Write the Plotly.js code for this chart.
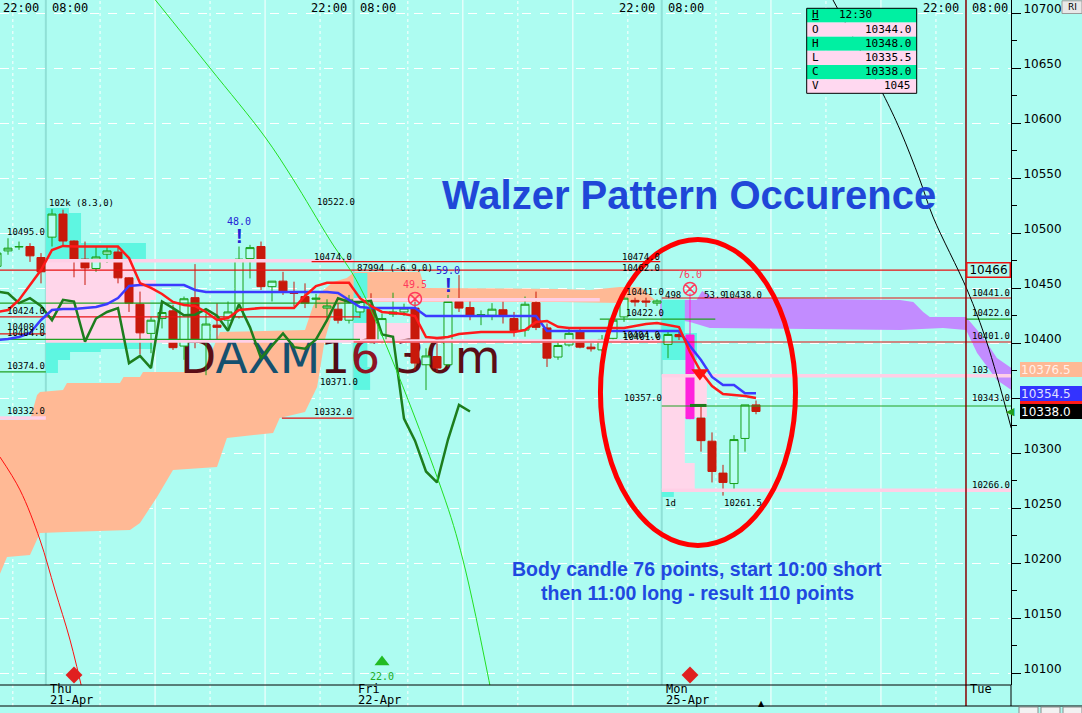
<!DOCTYPE html>
<html>
<head>
<meta charset="utf-8">
<script src="https://cdn.plot.ly/plotly-3.0.1.min.js"></script>
<style>
html,body{margin:0;padding:0;background:#adfcf1;overflow:hidden;}
#chart{width:1082px;height:713px;}
</style>
</head>
<body>
<div id="chart"></div>
<script>
// ================= DATA =================
// 30-minute bars, bar 0 = Thu 21-Apr 08:00 ; bars -5..-1 = end of Wed session
const bar = [-5,-4,-3,-2,-1,0,1,2,3,4,5,6,7,8,9,10,11,12,13,14,15,16,17,18,19,20,21,22,23,24,25,26,27,28,29,30,31,32,33,34,35,36,37,38,39,40,41,42,43,44,45,46,47,48,49,50,51,52,53,54,55,56,57,58,59,60,61,62,63,64];
const open = [10470,10484,10487.5,10488,10478,
  10496.5,10517.5,10493,10476.5,10468,10481,10483,10459.5,10435.5,10409,10422.5,10429.5,10397.5,10441.5,10402,10416.5,10421,10424,10477,10488,10451.5,10456.5,10446,10442.5,10440,10432,10431,10421,
  10428.5,10431,10401.5,10426.5,10428.5,10432,10380.5,10388,10380.5,10438,10432.5,10425,10425.5,10430.5,10422.5,10412,10437,10414,10387.5,10398.5,10411,10396.5,10394,10404.5,10424,10439,10438.5,10436.5,
  10399,10408,10407.5,10332,10311,10282,10272.5,10313.5,10344];
const high = [10484,10495.5,10492.5,10491,10482,
  10522,10521.5,10493.5,10492.5,10488,10488,10488,10460,10447,10424,10438,10435,10442.5,10472,10427,10436.5,10438,10488,10489.5,10492.5,10456.5,10465,10456,10454.5,10445,10440,10436.5,10444,
  10443,10445.5,10427,10446,10436,10439.5,10395.5,10400,10444,10462,10439.5,10430,10436.5,10438,10428.5,10442.5,10447,10418,10403,10413.5,10413.5,10400,10407.5,10425.5,10445.5,10441.5,10441.5,10440,
  10410.5,10411,10445.5,10344,10319,10289.5,10316.5,10344,10348];
const low = [10466,10480.5,10485,10474,10454.5,
  10488,10488,10460,10453,10465,10473,10454.5,10428.5,10390,10391,10413.5,10394,10385,10395.5,10371,10403,10413.5,10422.5,10459,10448.5,10438,10444,10433.5,10432,10432,10420,10418,10418,
  10423,10400,10400,10424,10425,10375.5,10357.5,10374,10378.5,10428.5,10421,10416.5,10421,10418,10406,10406,10412,10378.5,10385,10397,10395.5,10392.5,10392.5,10403,10419.5,10433.5,10433,10434,
  10386.5,10403,10331,10301.5,10273.5,10261.5,10266,10301.5,10335.5];
const close = [10482,10486.5,10488,10479.5,10465,
  10517.5,10493,10475,10468.5,10478.5,10484,10459.5,10436.5,10409.5,10421,10428,10396,10440.5,10403,10417.5,10414.5,10428.5,10476.5,10487,10451.5,10456.5,10447,10445.5,10436.5,10441,10434,10421,10439.5,
  10438,10401.5,10422.5,10428.5,10432,10382,10388.5,10377.5,10438,10432,10425.5,10426,10431,10425,10411.5,10435.5,10414.5,10386.5,10398,10409,10396.5,10395,10403.5,10421,10441,10437.5,10437.5,10438.5,
  10408,10406,10331.5,10311.5,10283.5,10273.5,10312.5,10344,10338];
const lastBarTime = '12:30';
const lastBarVolume = 1045;
const signalBar = 58;              // the 76-point Walzer body candle (magenta)

// Ichimoku lines
const tenkan = [10428.5,10430.3,10439.4,10453,10466.6,
  10484.8,10488.5,10488,10488,10488,10488,10488,10477.5,10454.8,10450.3,10444.8,10437.6,10434.8,10433.9,10428.5,10421.2,10423,10430.3,10431.2,10432.1,10432.1,10432.1,10432.1,10443,10452,10455,10455,10455,
  10441,10433.9,10428.5,10427.6,10426.7,10424.8,10405.7,10404.8,10405.7,10408.5,10409.4,10410.3,10410.3,10410.3,10410.3,10412,10419.4,10420.3,10415,10413.9,10413.9,10413.9,10413.9,10413.9,10413.9,10415.7,10417.6,10418.5,
  10416.6,10414.8,10392.1,10373.9,10361.2,10353.9,10353,10352.1,10350.3];
const kijun = [10403,10403.9,10405.7,10409.4,10421.2,
  10430.3,10431.2,10431.2,10432.1,10433,10435.7,10441.2,10452.1,10453,10453,10453,10453,10453,10448.5,10446.7,10446.7,10446.7,10446.7,10446.7,10446.7,10446.7,10446.7,10446.7,10446.7,10446.7,10446.7,10445.7,10439.4,
  10433,10432.1,10432.1,10432.1,10432.1,10432.1,10424.8,10424.8,10424.8,10424.8,10424.8,10424.8,10424.8,10424.8,10424.8,10424.8,10424.8,10411.2,10411.2,10411.2,10411.2,10411.2,10411.2,10411.2,10411.2,10411.2,10411.2,10411.2,
  10411.2,10411.2,10397.5,10384.8,10369.4,10362.1,10362.1,10354.5,10354.5];
const chikouLag = 26;

// Kumo (cloud) edges, bar position / price
const kumoTopBar = [-5,-2.0,-1.36,-1.09,1.0,1.36,6.18,6.5,8.0,8.27,13.73,15.27,23.0,23.7,24.36,25.55,26.8,27.5,33.45,33.9,46.2,48.9,51.6,53.5,54.8];
const kumoTopPx  = [10330.3,10330.3,10353,10355.7,10357.6,10363.9,10363.9,10369.4,10369.4,10373.9,10373.9,10410.3,10412.1,10433,10445.7,10455.7,10459.4,10464.8,10464.8,10450.3,10449.4,10448.5,10451.2,10451.2,10439.4];
const kumoBotBar = [-5,-4.09,-2.0,-1.09,1.36,7.09,8.0,9.55,11.0,15.0,15.9,20.1,20.7,23.0,24.1,24.8,25.7,27.5,46.2,51.6,54.8];
const kumoBotPx  = [10184,10205.7,10207.6,10227.6,10228.5,10230.3,10236.6,10260.3,10284.8,10287.6,10313.9,10318.5,10332.1,10337.6,10360.3,10403,10434.8,10437.6,10437.6,10436.6,10439.4];
const futTopBar = [55.3,58.6,59.1,60.1,77.1,78.3,79.2,79.8,83.1,84.1,85.0,85.9,88];
const futTopPx  = [10439.4,10439.4,10447.6,10441.5,10439.4,10437.6,10428.5,10423.9,10423.9,10412.1,10400.3,10386.6,10372];
const futBotBar = [55.3,58.0,59.8,77.1,81.0,83.1,84.1,85.9,88];
const futBotPx  = [10423.9,10419.4,10413.9,10412.1,10413.9,10412.1,10391.2,10366.7,10352];

// Session volume profiles
const sessionBreaks = [-0.56, 27.42, 55.43, 83.09];
const dayNames = ['Thu','Fri','Mon','Tue'];
const dayDates = ['21-Apr','22-Apr','25-Apr',''];
const profDay  = [0,0,0,0,0,0,0,0,0,0, 1,1,1,1, 2,2,2,2,2,2];
const profLo   = [10518.5,10491.2,10475.7,10457.5,10439.4,10403.0,10394.8,10392.1,10384.8,10373.0, 10418.5,10400.3,10378.5,10357.6, 10409.4,10384.8,10333.0,10291.2,10266.6,10260.3];
const profHi   = [10523.0,10518.5,10491.2,10475.7,10457.5,10439.4,10403.0,10394.8,10392.1,10384.8, 10463.9,10418.5,10400.3,10378.5, 10439.4,10409.4,10371.2,10333.0,10291.2,10266.6];
const profLen  = [2.1,3.2,9.1,8.0,10.0,9.5,9.7,5.0,2.2,1.1, 1.25,6.1,1.25,1.5, 2.1,3.2,4.1,2.1,3.0,1.1];
const profKind = ['c','c','c','p','p','p','c','c','c','c', 'c','p','c','c', 'c','c','p','p','p','c'];

// Horizontal price levels
const lvlPrice = [10475,10439.5,10402,10370.5,10332,10266.5, 10466.5,10474.2,10424,10436.5,10403.6,10408.5,10374,10332,10441.2,10422,10422,10401.2,10343];
const lvlFrom  = [-0.56,27.42,-0.56,55.43,-5,55.43, -5,23.6,-5,-5,-5,-5,-5,20.9,55.43,49.8,83.1,27.42,55.43];
const lvlTo    = [27.42,49.8,55.43,88,-0.56,88, 83.1,55.3,28,28,28,-0.56,-0.56,27.42,88,60.3,88,88,88];
const lvlKind  = ['va','va','va','va','va','va','r','r','r','g','g','r','g','r','r','g','g','r','g'];

// Drawing-tool arcs
const arcGreenBar = [9.4,14.36,19.36,21.9,25.27,28.0,35.43,37.36,40.18];
const arcGreenPx  = [10712.1,10650.3,10587.6,10549.4,10493.9,10451.2,10266.7,10203.0,10070.3];
const arcRedBar = [-4.73,-2.91,-1.09,0.27,1.64,3.09];
const arcRedPx  = [10296.6,10266.7,10221.2,10175.7,10130.3,10070.3];
const arcBlackBar = [71.0,75.5,77.1,78.9,80.1,83.2,85.0,87.2];
const arcBlackPx  = [10712.1,10627.6,10593.9,10548.5,10514.8,10448.5,10400.3,10323.0];

// Signals
const sellBar = [2, 58], sellPrice = [10098.5, 10098.5];
const buyBar = [30], buyPrice = [10110.3], buyValue = ['22.0'];
const crossBar = [33, 58], crossPrice = [10440.3, 10449.4], crossValue = ['49.5','76.0'];
const bangBar = [17, 36], bangPrice = [10497.5, 10453], bangValue = ['48.0','59.0'];
const nowBar = 64.5;
const priceTicks = [10100,10150,10200,10250,10300,10350,10400,10450,10500,10550,10600,10650,10700];
const hiddenTick = 10350;          // covered by the price boxes
const cloudEndValue = 10376.5;
const alertLevel = 10466;
const highlight = {fromBar:49.86, toBar:67.59, low:10216.2, high:10494.4};

// ================= LAYOUT HELPERS =================
const PW = 1011, PH = 685;
const px = x => x / PW;
const py = y => 1 - y / PH;
const barPx = b => 52 + 11 * b;       // bar index -> pixel (x range is fixed below)
const BG = '#adfcf1';
const last = bar.length - 1;

const traces = [];
// candles
const isSig = bar.map(b=>b===signalBar);
const pick = (arr, want) => arr.map((v,k)=> isSig[k]===want ? v : null);
traces.push({type:'candlestick', x: bar, open: pick(open,false), high: pick(high,false), low: pick(low,false), close: pick(close,false),
  increasing:{line:{color:'#18a018', width:1}, fillcolor:'#b8fff3'},
  decreasing:{line:{color:'#c8190b', width:1}, fillcolor:'#c8190b'},
  whiskerwidth:0, hoverinfo:'skip'});
traces.push({type:'candlestick', x: bar, open: pick(open,true), high: pick(high,true), low: pick(low,true), close: pick(close,true),
  increasing:{line:{color:'#ff22dd', width:1}, fillcolor:'#ff22dd'},
  decreasing:{line:{color:'#ff22dd', width:1}, fillcolor:'#ff22dd'},
  whiskerwidth:0, hoverinfo:'skip'});
// level lines
const lvlColor = {va:'#ffcfe6', r:'#e81212', g:'#22a022'};
lvlPrice.forEach((p,k)=>traces.push({type:'scatter', mode:'lines', x:[lvlFrom[k], lvlTo[k]], y:[p,p],
  line:{color:lvlColor[lvlKind[k]], width: lvlKind[k]==='va'?3.5:1.2}, hoverinfo:'skip'}));
traces.push({type:'scatter', mode:'lines', x:[58,59.5], y:[10343.5,10343.5], line:{color:'#1d7d1d', width:3}, hoverinfo:'skip'});
// chikou span (close shifted back)
const chX = [], chY = [];
bar.forEach((b,k)=>{ if (b - chikouLag >= bar[0]) { chX.push(b - chikouLag); chY.push(close[k]); } });
traces.push({type:'scatter', mode:'lines', x:chX, y:chY, line:{color:'#1d7d1d', width:2.5}, hoverinfo:'skip'});
traces.push({type:'scatter', mode:'lines', x:bar, y:kijun, line:{color:'#3b3bff', width:2.5}, hoverinfo:'skip'});
traces.push({type:'scatter', mode:'lines', x:bar, y:tenkan, line:{color:'#ff1a1a', width:2.5}, hoverinfo:'skip'});
// arcs
traces.push({type:'scatter', mode:'lines', x:arcGreenBar, y:arcGreenPx, line:{color:'#22e022', width:1, shape:'spline'}, hoverinfo:'skip'});
traces.push({type:'scatter', mode:'lines', x:arcRedBar, y:arcRedPx, line:{color:'#ff1010', width:1, shape:'spline'}, hoverinfo:'skip'});
traces.push({type:'scatter', mode:'lines', x:arcBlackBar, y:arcBlackPx, line:{color:'#000000', width:1, shape:'spline'}, hoverinfo:'skip'});
// signal markers
traces.push({type:'scatter', mode:'markers', x:sellBar, y:sellPrice, marker:{symbol:'diamond', size:13, color:'#e02020'}, hoverinfo:'skip'});
traces.push({type:'scatter', mode:'markers', x:buyBar, y:buyPrice, marker:{symbol:'triangle-up', size:13, color:'#22bb22'}, hoverinfo:'skip'});
traces.push({type:'scatter', mode:'markers', x:crossBar, y:crossPrice, marker:{symbol:'circle-x-open', size:13, color:'#ff3a5c', line:{width:1.5, color:'#ff3a5c'}}, hoverinfo:'skip'});
traces.push({type:'scatter', mode:'markers', x:[58.9], y:[10373], marker:{symbol:'triangle-down', size:15, color:'#ff1010'}, hoverinfo:'skip'});

// ================= SHAPES =================
const shapes = [];
const BAND = -21/PH;
function vline(x, color, width, dash, layer, y0, y1){
  shapes.push({type:'line', xref:'x', yref:'paper', x0:x, x1:x, y0:y0, y1:y1, line:{color:color, width:width, dash:dash}, layer:layer});
}
vline(sessionBreaks[0]-3.0, '#ffffff', 1, 'dot', 'below', BAND, 1);
const gridOffsets = [4.93, 9.93, 14.93, 19.93, 24.93];
for (let d=0; d<3; d++) gridOffsets.forEach((o,k)=> vline(sessionBreaks[d]+o, '#ffffff', 1, (k%2===1)?'solid':'dot', 'below', BAND, 1));
for (let d=0; d<3; d++) vline(sessionBreaks[d], '#8fe0d6', 2, 'solid', 'below', 0, 1);
function poly(tx, ty, bx, by){
  let s = 'M' + tx[0] + ',' + ty[0];
  for (let k=1;k<tx.length;k++) s += ' L' + tx[k] + ',' + ty[k];
  for (let k=bx.length-1;k>=0;k--) s += ' L' + bx[k] + ',' + by[k];
  return s + ' Z';
}
// cloud
shapes.push({type:'path', xref:'x', yref:'y', path: poly(kumoTopBar, kumoTopPx, kumoBotBar, kumoBotPx), fillcolor:'#ffb995', line:{width:0}, layer:'between'});
shapes.push({type:'path', xref:'x', yref:'y', path: poly(futTopBar, futTopPx, futBotBar, futBotPx), fillcolor:'#c28cff', line:{width:0}, layer:'between'});
// session volume profiles (drawn under every trace)
profLo.forEach((lo,k)=>{
  const base = sessionBreaks[profDay[k]];
  shapes.push({type:'rect', xref:'x', yref:'y', x0:base, x1:base + profLen[k], y0:lo, y1:profHi[k],
    fillcolor: profKind[k]==='p' ? '#ffd6ea' : '#5ef6e1', line:{width:0}, layer:'between'});
});
// watermark on an invisible line (above cloud and profiles, below the candles)
shapes.push({type:'line', xref:'x', yref:'y', x0:11.64, x1:42.5, y0:10390.5, y1:10390.5, line:{width:0, color:'rgba(0,0,0,0)'}, layer:'between',
  label:{text:'<span style="color:#5b0d16">D</span><span style="color:#15506f">AXM</span><span style="color:#4f0c14">1</span><span style="color:#8e1424">6</span><span style="color:#5b0d16"> 30m</span>',
  textposition:'start', textangle:0, xanchor:'left', yanchor:'middle', padding:0, font:{family:'DejaVu Sans', size:47, color:'#5b0d16'}}});
// Tue separator
vline(sessionBreaks[3], '#8b0000', 1.5, 'solid', 'above', BAND, 1);
// time axis band
shapes.push({type:'line', xref:'paper', yref:'paper', x0:0, x1:1, y0:0, y1:0, line:{color:'#000', width:1}});
shapes.push({type:'line', xref:'paper', yref:'paper', x0:0, x1:1082/PW, y0:BAND, y1:BAND, line:{color:'#000', width:1}});
shapes.push({type:'line', xref:'paper', yref:'paper', x0:1, x1:1, y0:BAND, y1:0, line:{color:'#000', width:1}});
// highlight ellipse
shapes.push({type:'circle', xref:'x', yref:'y', x0:highlight.fromBar, x1:highlight.toBar, y0:highlight.low, y1:highlight.high, line:{color:'#ff0000', width:5}, layer:'above'});
// data box
const boxRowH = 14.17, boxTop = 8.3;
for (let k=0;k<6;k++) shapes.push({type:'rect', xref:'paper', yref:'paper', x0:px(806.7), x1:px(916.7), y0:py(boxTop+boxRowH*(k+1)), y1:py(boxTop+boxRowH*k), fillcolor: k%2===0?'#00f0a2':'#ffd8f0', line:{width:0}, layer:'above'});
shapes.push({type:'rect', xref:'paper', yref:'paper', x0:px(806.7), x1:px(916.7), y0:py(boxTop+boxRowH*6), y1:py(boxTop), line:{color:'#000', width:1}, layer:'above'});
// tenkan price box, mostly hidden behind the kijun / close boxes
shapes.push({type:'rect', xref:'paper', yref:'y', x0:px(1020), x1:px(1082), y0:tenkan[last]-6.5, y1:tenkan[last]+6.5, fillcolor:'#ff1a1a', line:{width:0}, layer:'above'});
// RI button and bottom buttons
shapes.push({type:'rect', xref:'paper', yref:'paper', x0:px(1062), x1:px(1082), y0:py(13.5), y1:py(0.8), fillcolor:'#e8e8e8', line:{color:'#9a9a9a', width:1}});
[1019,1041,1063].forEach(x=>shapes.push({type:'rect', xref:'paper', yref:'paper', x0:px(x), x1:px(x+19), y0:py(716), y1:py(707), fillcolor:'#f2f2f2', line:{color:'#8a8a8a', width:1}}));

// ================= ANNOTATIONS =================
const A = [];
const MONO = 'DejaVu Sans Mono, monospace';
function lab(text, x, y, o){ A.push(Object.assign({xref:'paper', yref:'paper', x:px(x), y:py(y), text:text, showarrow:false, xanchor:'left', yanchor:'middle', font:{family:MONO, size:9, color:'#000'}}, o||{})); }
const levelLabels = [
 ['10495.0',5,232],['102k (8.3,0)',47,203],['10522.0',315,202],['10474.0',312,257],['10424.0',5,311],['10408.0',5,327],['10404.0',5,333],
 ['10374.0',5,366],['10332.0',5,411],['10371.0',318,382],['10332.0',312,412],['87994 (-6.9,0)',355,268],['10474.0',620,257],['10462.0',620,268],
 ['10441.0',624,292],['10422.0',624,313],['10404.0',620,335],['10401.0',621,337],['10357.0',622,398],['498',663,295],['53.9',702,295],['10438.0',722,295],
 ['1d',663,503],['10261.5',722,503],['10441.0',970,293],['10422.0',970,313],['10401.0',970,336],['103',970,370],['10343.0',970,398],['10266.0',970,485]];
levelLabels.forEach(l=>lab(l[0], l[1], l[2]));
// signal texts
bangBar.forEach((b,k)=>{
  A.push({xref:'x', yref:'y', x:b, y:bangPrice[k], text:'<b>!</b>', showarrow:false, font:{family:'Liberation Sans, Arial', size:20, color:'#2323d6'}});
  A.push({xref:'x', yref:'y', x:b, y:bangPrice[k], yshift:15, text:bangValue[k], showarrow:false, font:{family:MONO, size:10, color:'#2323d6'}});
});
crossBar.forEach((b,k)=>A.push({xref:'x', yref:'y', x:b, y:crossPrice[k], yshift:14, text:crossValue[k], showarrow:false, font:{family:MONO, size:10, color:'#ff3a5c'}}));
buyBar.forEach((b,k)=>A.push({xref:'x', yref:'y', x:b, y:buyPrice[k], yshift:-15, text:buyValue[k], showarrow:false, font:{family:MONO, size:10, color:'#22aa22'}}));
lab('▲', barPx(nowBar), 703, {xanchor:'center', font:{family:'DejaVu Sans', size:8, color:'#000'}});
// time labels
const TF = {family:MONO, size:12, color:'#000'};
sessionBreaks.forEach((s,d)=>{
  const sx = barPx(s);
  lab('22:00', sx - 5, 7.5, {xanchor:'right', font:TF});
  lab('08:00', sx + 4, 7.5, {font:TF});
  lab(dayNames[d], sx + 2, 689, {font:TF});
  if (dayDates[d]) lab(dayDates[d], sx + 2, 700, {font:TF});
});
// title & comments
lab('<b>Walzer Pattern Occurence</b>', 689, 195, {xanchor:'center', font:{family:'Liberation Sans, Arial', size:40, color:'#1f47d8'}});
lab('<b>Body candle 76 points, start 10:00 short</b>', 697, 569, {xanchor:'center', font:{family:'Liberation Sans, Arial', size:19.5, color:'#2048e0'}});
lab('<b>then 11:00 long - result 110 points</b>', 697, 593, {xanchor:'center', font:{family:'Liberation Sans, Arial', size:19.5, color:'#2048e0'}});
// data box text
const boxRows = [['<u>H</u>', lastBarTime], ['O', open[last].toFixed(1)], ['H', high[last].toFixed(1)], ['L', low[last].toFixed(1)], ['C', close[last].toFixed(1)], ['V', String(lastBarVolume)]];
boxRows.forEach((r,k)=>{
  const yc = boxTop + boxRowH*(k+0.5) - 0.5;
  lab(r[0], 810, yc, {font:{family:MONO, size:11, color:'#000'}});
  if (k===0) lab(r[1], 855, yc, {xanchor:'center', font:{family:MONO, size:11, color:'#000'}});
  else lab(r[1], 913, yc, {xanchor:'right', font:{family:MONO, size:11, color:'#000'}});
});
lab('RI', 1066, 7, {font:{family:'DejaVu Sans', size:9, color:'#000'}});
// right-axis price boxes
A.push({xref:'paper', yref:'y', x:px(1010.5), y:alertLevel + 0.5, xanchor:'right', yanchor:'middle', text:String(alertLevel), showarrow:false,
  width:40, height:11, borderpad:1, borderwidth:1.5, bordercolor:'#ee1111', font:{family:'DejaVu Sans', size:12, color:'#000'}});
function pbox(val, bg, fg){
  A.push({xref:'paper', yref:'y', x:px(1020), y:val, xanchor:'left', yanchor:'middle', text:val.toFixed(1), showarrow:false, align:'left',
    width:60, height:13, borderpad:1, borderwidth:0, bgcolor:bg, font:{family:'DejaVu Sans', size:12, color:fg}});
}
pbox(cloudEndValue, '#ffb995', '#fff0ea');
pbox(kijun[last], '#3333ff', '#e0e0ff');
pbox(close[last], '#000000', '#ffffff');
A.push({xref:'paper', yref:'y', x:px(1016.5), y:close[last], text:'◀', showarrow:false, font:{family:'DejaVu Sans', size:11, color:'#1e9e1e'}});

// ================= LAYOUT =================
const minorTicks = priceTicks.map(t=>t+25).filter(t=>t<10712);
minorTicks.unshift(10075);
const layout = {
  width:1082, height:713,
  margin:{l:0, r:71, t:0, b:28, pad:0},
  paper_bgcolor:BG, plot_bgcolor:BG,
  showlegend:false, hovermode:false, dragmode:false,
  boxgap:0.27, boxgroupgap:0,
  xaxis:{range:[-52/11, (PW-52)/11], showgrid:false, zeroline:false, showticklabels:false, ticks:'', showline:false, rangeslider:{visible:false}, fixedrange:true, automargin:false},
  yaxis:{range:[10089.36, 10712.09], side:'right', tickmode:'array', tickvals:priceTicks, ticktext:priceTicks.map(t=>t===hiddenTick?'':String(t)),
    ticks:'outside', ticklen:9, tickwidth:1, tickcolor:'#000', showline:true, linecolor:'#000', linewidth:1,
    showgrid:true, gridcolor:'#ffffff', griddash:'dash', gridwidth:1, zeroline:false, automargin:false,
    tickfont:{family:'DejaVu Sans', size:12, color:'#000'}, ticklabelshift:-5, ticklabelstandoff:0,
    minor:{tickmode:'array', tickvals:minorTicks, ticks:'outside', ticklen:5, tickcolor:'#000', showgrid:false}, fixedrange:true},
  shapes:shapes, annotations:A
};
Plotly.newPlot('chart', traces, layout, {staticPlot:true, displayModeBar:false});
</script>
</body>
</html>
